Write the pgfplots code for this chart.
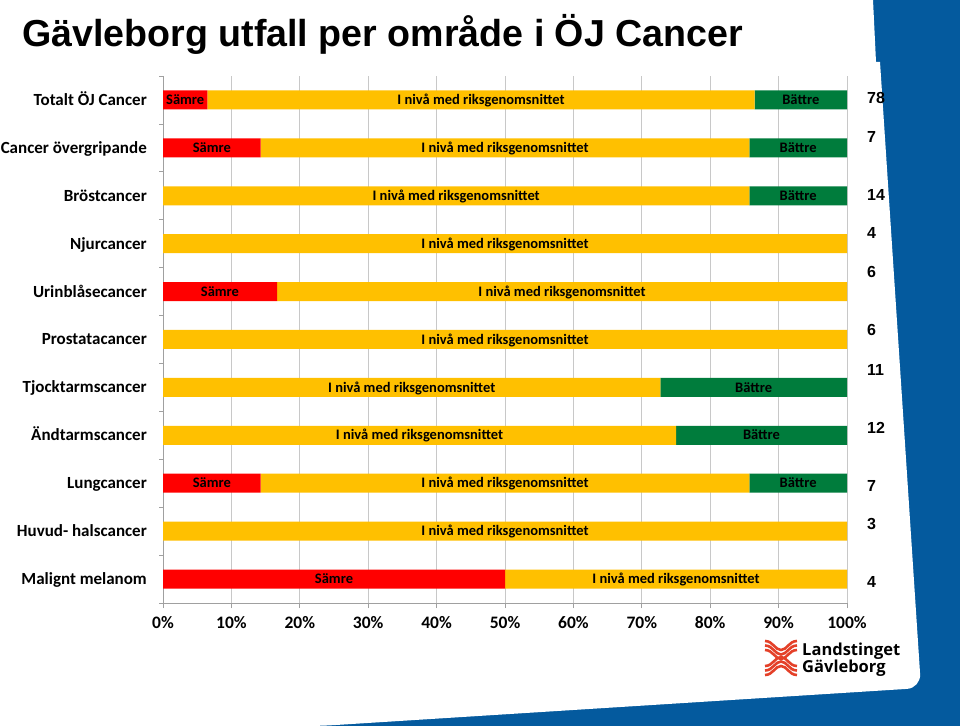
\documentclass[border=0pt]{standalone}
\usepackage{pgfplots}
\pgfplotsset{compat=1.18}
\usepackage{fontspec}
\setmainfont{Carlito}
\newfontfamily\arialf{Liberation Sans}
\newfontfamily\logof{Open Sans}
\definecolor{sred}{RGB}{255,0,0}
\definecolor{syel}{RGB}{255,192,0}
\definecolor{sgrn}{RGB}{0,124,60}
\definecolor{bgblue}{RGB}{4,90,158}
\definecolor{logored}{RGB}{228,64,40}
\definecolor{gridg}{RGB}{200,200,200}
\definecolor{axg}{RGB}{160,160,160}
\pgfplotsset{commongeom/.style={at={(163pt,123pt)}, anchor=south west,
  scale only axis, width=684pt, height=527pt,
  xmin=0, xmax=100, ymin=-0.5, ymax=10.5}}
\begin{document}
\begin{tikzpicture}
\begin{scope}[x=1pt,y=1pt]
\useasboundingbox (0,0) rectangle (960,726);
\fill[bgblue] (0,0) rectangle (960,726);
\fill[white] (0,726) -- (873,726) -- (876,664) -- (880,664) [rounded corners=14pt] -- (921,38) -- (320,0) [sharp corners] -- (0,0) -- cycle;
\node[anchor=base west, inner sep=0pt, font=\arialf\bfseries\fontsize{37.6}{42}\selectfont] at (22,679) {Gävleborg utfall per område i ÖJ Cancer};
\end{scope}
\begin{axis}[
  commongeom,
  xbar stacked, bar width=19pt,
  axis x line*=bottom, axis y line*=left,
  axis line style={draw=axg, line width=0.8pt},
  xtick={0,10,...,100},
  xmajorgrids, grid style={draw=gridg, line width=0.8pt},
  ytick={0,...,10},
  yticklabels={Malignt melanom, Huvud- halscancer, Lungcancer, Ändtarmscancer, Tjocktarmscancer, Prostatacancer, Urinblåsecancer, Njurcancer, Bröstcancer, Cancer övergripande, Totalt ÖJ Cancer},
  minor ytick={-0.5,0.5,...,10.5},
  tick align=outside,
  major tick length=5pt, minor tick length=4pt,
  every major y tick/.append style={draw=none},
  every tick/.append style={draw=axg, line width=0.8pt},
  /pgf/number format/assume math mode=true,
  xticklabel={\pgfmathprintnumber{\tick}\%},
  xticklabel style={font=\fontsize{17.5}{19}\selectfont\bfseries, yshift=-5pt},
  yticklabel style={font=\fontsize{17}{19}\selectfont\bfseries, inner sep=0pt, xshift=-11pt, anchor=base east, yshift=-5.5pt},
  clip=false,
]
\addplot[fill=sred, draw=none] coordinates {(50,0) (0,1) (14.29,2) (0,3) (0,4) (0,5) (16.67,6) (0,7) (0,8) (14.29,9) (6.5,10)};
\addplot[fill=syel, draw=none] coordinates {(50,0) (100,1) (71.42,2) (75,3) (72.73,4) (100,5) (83.33,6) (100,7) (85.71,8) (71.42,9) (80,10)};
\addplot[fill=sgrn, draw=none] coordinates {(0,0) (0,1) (14.29,2) (25,3) (27.27,4) (0,5) (0,6) (0,7) (14.29,8) (14.29,9) (13.5,10)};
\end{axis}
\begin{axis}[commongeom, hide axis, clip=false]
\addplot[draw=none, mark=none, nodes near coords,
  point meta=explicit symbolic,
  every node near coord/.style={font=\fontsize{14.5}{16}\selectfont\bfseries, text=black, inner sep=0pt, anchor=base, yshift=-4.6pt}]
  table[x=x, y=y, meta=label, col sep=comma, row sep=\\] {
x,y,label\\
3.25,10,Sämre\\
46.5,10,I nivå med riksgenomsnittet\\
93.25,10,Bättre\\
7.14,9,Sämre\\
50,9,I nivå med riksgenomsnittet\\
92.86,9,Bättre\\
42.86,8,I nivå med riksgenomsnittet\\
92.86,8,Bättre\\
50,7,I nivå med riksgenomsnittet\\
8.33,6,Sämre\\
58.33,6,I nivå med riksgenomsnittet\\
50,5,I nivå med riksgenomsnittet\\
36.36,4,I nivå med riksgenomsnittet\\
86.36,4,Bättre\\
37.5,3,I nivå med riksgenomsnittet\\
87.5,3,Bättre\\
7.14,2,Sämre\\
50,2,I nivå med riksgenomsnittet\\
92.86,2,Bättre\\
50,1,I nivå med riksgenomsnittet\\
25,0,Sämre\\
75,0,I nivå med riksgenomsnittet\\
};
\end{axis}
\begin{scope}[x=1pt,y=1pt]
\begin{scope}[every node/.style={anchor=west, inner sep=0pt, font=\arialf\bfseries\fontsize{16}{18}\selectfont}]
\node at (867,628) {78};
\node at (867,589) {7};
\node at (867,531) {14};
\node at (867,493) {4};
\node at (867,454) {6};
\node at (867,396) {6};
\node at (867,356) {11};
\node at (867,298) {12};
\node at (867,240) {7};
\node at (867,202) {3};
\node at (867,144) {4};
\end{scope}
\foreach \d in {0,4.5,9} {
  \draw[logored, line width=2.6pt] (765,85-\d) .. controls (773,85-\d) and (775,76-\d) .. (781,76-\d) .. controls (787,76-\d) and (789,85-\d) .. (797,85-\d);
  \draw[logored, line width=2.6pt] (765,51+\d) .. controls (773,51+\d) and (775,60+\d) .. (781,60+\d) .. controls (787,60+\d) and (789,51+\d) .. (797,51+\d);
}
\node[anchor=base west, inner sep=0pt, font=\logof\bfseries\fontsize{16.5}{18}\selectfont] at (802,71) {Landstinget};
\node[anchor=base west, inner sep=0pt, font=\logof\bfseries\fontsize{16.5}{18}\selectfont] at (802,54) {Gävleborg};
\end{scope}
\end{tikzpicture}
\end{document}
